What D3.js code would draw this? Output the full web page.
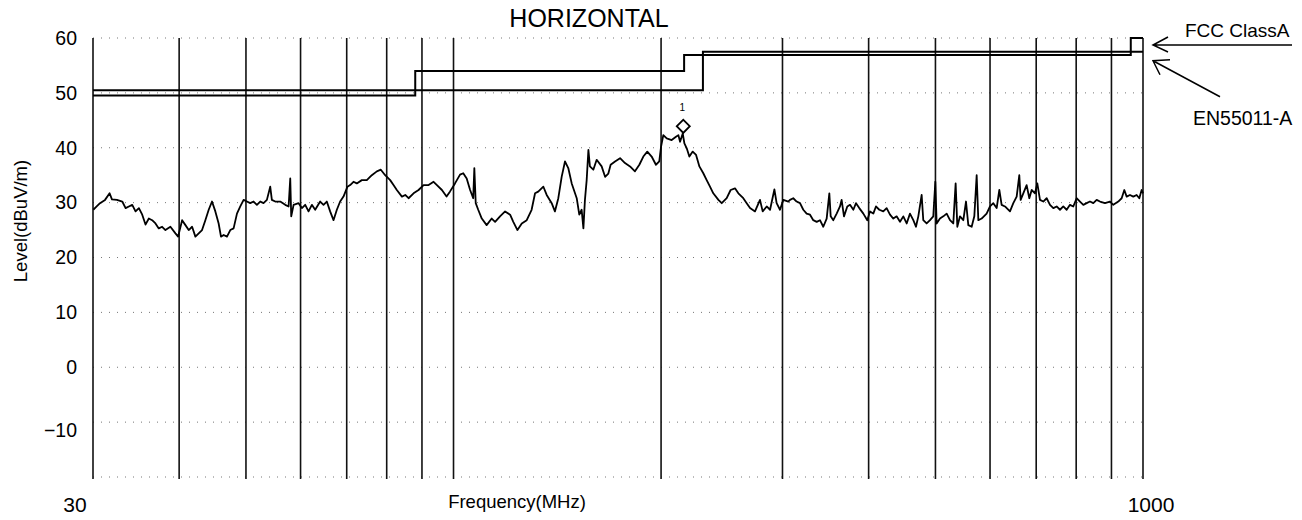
<!DOCTYPE html>
<html>
<head>
<meta charset="utf-8">
<script src="https://cdn.jsdelivr.net/npm/d3@7"></script>
<style>
  html, body { margin: 0; padding: 0; background: #fff; }
  svg { display: block; font-family: "Liberation Sans", Arial, sans-serif; }
</style>
</head>
<body>
<svg id="chart" width="1302" height="520"></svg>
<script>
const traceFreq = [
  30.03, 30.37, 30.71, 31.23, 31.71, 31.96, 32.5, 33.08, 33.45, 33.82, 34.2, 34.58, 34.97, 35.36, 35.75,
  36.15, 36.55, 36.96, 37.37, 37.79, 38.21, 38.85, 39.51, 39.86, 40.4, 40.85, 41.3, 41.77, 42.23, 42.7,
  43.18, 43.66, 44.15, 44.64, 45.14, 45.64, 46, 46.41, 46.93, 47.45, 47.98, 48.52, 49.06, 49.61, 50.16,
  50.72, 51.29, 51.86, 52.44, 53.02, 53.62, 54.22, 54.52, 55.13, 56.06, 57.01, 57.65, 57.97, 58.16, 58.62,
  59.6, 60.27, 60.94, 61.62, 62.31, 63, 64.06, 64.78, 65.5, 66.23, 66.98, 67.73, 68.48, 69.25, 70.18,
  70.81, 71.6, 72.4, 73.62, 74.86, 76.12, 77.41, 78.45, 79.59, 80.93, 81.84, 82.75, 84.17, 85.11, 86.06,
  87.51, 88.98, 90.48, 92.01, 93.56, 94.61, 96.2,
  97.7, 98.8, 100.5, 102.2, 103.3, 104.5, 105.7, 106.8, 107.2, 107.7, 108.6, 109.9, 111.7, 113.6, 114.9,
  116.8, 118.8, 120.8, 122.1, 123.8, 125.6, 127.7, 129.8, 131.3, 132.7, 135, 136.5, 138.8, 140.3, 141.9,
  143.5, 145.1, 146.7, 148.4, 150.9, 152.2, 153.4, 154.3, 155.1, 156, 156.9, 157.7, 159.5, 161.3, 164,
  165.9, 167.7, 169, 171.5, 174.4, 177.3, 180.3, 183.3, 186, 188.5, 191, 193.8, 196.6, 198.8, 200,
  201.5, 203.8, 207.2, 210.2, 211.9, 213.1, 215, 216.2, 217.9, 219.8, 222.3, 224.8, 227.3, 230.3, 232.9,
  235.5, 238.1, 242.2, 244.9, 249, 252.3, 256, 258.9, 263.2, 266.2, 269.2, 273.7, 278.3, 280.8, 284.6,
  287.8, 292, 294.2, 297.5, 300.9, 305.9,
  307.6, 311, 314.5, 318.1, 321.6, 325.2, 328.9, 332.5, 336.3, 340, 343.8, 347.7, 350.8, 352.4, 355.5,
  359.5, 363.5, 365.5, 368.4, 372.5, 375.9, 380.1, 383.5, 387.7, 393, 398.2, 401.8, 406.3, 409.9, 414.5,
  420.1, 424.8, 429.6, 434.4, 439.2, 444.2, 449.1, 454.2, 459.2, 464.4, 468.5, 472.2, 477.5, 480.1, 485.5,
  491, 496.4, 499.8, 502, 507.6, 513.3, 519.1, 524.9, 530.7, 534.9, 537.9, 542.7, 548.8, 553.7, 558,
  564.3, 569.3, 573.8, 577, 583.4, 593.2, 599.9, 606.6, 613.4, 618.9, 623.7, 630.7, 641.3, 648.5, 655.8,
  661.6, 664.6, 670.5, 678, 684.1, 689.5, 697.2, 702.6, 708.9, 716.8, 724.9, 733, 741.2, 749.5, 757.9,
  766.3, 774.9, 783.6, 792.3, 801.2, 810.2, 819.3, 828.4, 837.7, 847.1, 856.6, 866.2, 880.7, 895.6, 905.6,
  920.8, 931.2, 939.5, 946.9, 957.4, 968.1, 979, 987.7, 995.5, 1000
];
const traceLevel = [
  28.7, 29.3, 29.9, 30.5, 31.7, 30.6, 30.5, 30.2, 29, 29.3, 29.6, 28.4, 29, 27.8, 26,
  27.1, 26.8, 26.2, 25.3, 25.6, 25, 25.6, 24.4, 23.8, 26.8, 25.9, 25, 25.6, 23.8, 24.4,
  25, 26.8, 28.7, 30.2, 28.4, 26.2, 23.8, 24.1, 23.8, 25, 25.3, 28, 29.3, 30.5, 30.2,
  29.9, 30.2, 29.6, 30.2, 29.9, 30.5, 32.9, 30.5, 30.2, 30.2, 29.6, 29.3, 34.4, 27.5, 29.6,
  29.9, 29, 29.6, 28.4, 29.6, 28.7, 30.2, 29.6, 30.2, 28.4, 26.8, 28.7, 30.2, 31.1, 32.9,
  33.2, 33.8, 33.5, 34.1, 34.1, 35, 35.7, 36, 35, 34.1, 33.2, 32.3, 31.1, 31.4, 30.8,
  31.7, 32.3, 33.2, 33.2, 33.8, 33.2, 32.3,
  31.1, 32, 33.5, 35.1, 35.35, 34.4, 32.3, 30.8, 36.3, 29.9, 28.7, 27.1, 25.9, 27.1, 26.5,
  27.5, 28.4, 27.8, 26.5, 25, 26.2, 26.8, 28.7, 31.7, 32, 32.9, 31.4, 29.9, 28.4, 30.8,
  34.7, 37.5, 36.3, 33.5, 30.8, 27.8, 28.7, 25.3, 30.5, 34.1, 39.6, 36.6, 36, 37.8, 36.6,
  34.7, 35.3, 36.9, 37.5, 38.1, 37.2, 36.6, 35.7, 36.9, 38.4, 39.3, 38.4, 36.9, 37.5, 40.2,
  42.3, 41.7, 41.4, 42, 42.3, 41.1, 42.6, 40.8, 39.9, 38.4, 39.3, 38.7, 36.6, 35.35, 34.1,
  32.9, 31.7, 30.5, 29.9, 30.8, 32.3, 32.6, 31.7, 30.8, 29.9, 29, 28.4, 30.5, 28.4, 29.3,
  28.7, 32.4, 29.9, 28.7, 30.5, 30.2,
  30.5, 30.8, 30.2, 29.9, 28.7, 28, 27.8, 26.8, 26.5, 26.8, 25.6, 27.1, 31.7, 27.5, 26.8,
  28, 29.3, 30.5, 27.5, 29.3, 29.6, 28.7, 29.9, 29, 28, 26.8, 28.4, 28, 29.3, 28.7,
  28.4, 29, 27.8, 27.1, 27.5, 26.5, 27.5, 26.2, 28, 26.8, 25.6, 27.5, 31.4, 26.8, 26.2,
  26.8, 27.5, 33.8, 26.2, 27.1, 27.5, 28, 26.8, 26.2, 33.5, 25.6, 27.5, 26.8, 30.2, 25.9,
  25.6, 27.5, 35, 26.8, 27.1, 28, 29.3, 29.9, 29, 32.3, 29.6, 29.3, 28.4, 29.9, 31.1,
  35, 30.5, 31.7, 33.2, 30.8, 32.3, 31.7, 33.5, 30.5, 30.2, 30.8, 29.6, 29, 29.3, 28.7,
  29.3, 28.7, 29.6, 29.3, 30.8, 30.2, 29.6, 29.9, 30.2, 29.9, 30.5, 30.2, 29.9, 30.2, 29.6,
  30.2, 30.8, 32.3, 31.1, 31.4, 31.1, 31.4, 30.8, 32.3, 31.7
];

// limit lines (step after each frequency)
const fccFreq = [30, 88, 216, 960, 1000];
const fccLevel = [49.5, 54, 56.9, 60, 60];
const enFreq = [30, 230, 1000];
const enLevel = [50.5, 57.5, 57.5];

// peak marker
const markerFreq = [215.4];
const markerLevel = [43.9];

const gridFreqs = [30, 40, 50, 60, 70, 80, 90, 100, 200, 300, 400, 500, 600, 700, 800, 900, 1000];
const yGrid = [60, 50, 40, 30, 20, 10, 0, -10, -20];
const yTicks = [60, 50, 40, 30, 20, 10, 0, -10];
const xLabels = [30, 1000];

const svg = d3.select('#chart');

const x = d3.scaleLog().domain([30, 1000]).range([93, 1143]);
const y = d3.scaleLinear().domain([-20, 60]).range([477, 38]);

// horizontal dotted grid
svg.append('g')
  .selectAll('line')
  .data(yGrid)
  .join('line')
  .attr('x1', x(30))
  .attr('x2', x(1000))
  .attr('y1', d => y(d))
  .attr('y2', d => y(d))
  .attr('stroke', '#777')
  .attr('stroke-width', 1)
  .attr('stroke-dasharray', '1,7');

// vertical grid (solid)
svg.append('g')
  .selectAll('line')
  .data(gridFreqs)
  .join('line')
  .attr('x1', d => x(d))
  .attr('x2', d => x(d))
  .attr('y1', y(60))
  .attr('y2', y(-20) + 2)
  .attr('stroke', '#111')
  .attr('stroke-width', 1.6);

// y axis labels
svg.append('g')
  .attr('transform', `translate(${x(30)},0)`)
  .call(d3.axisLeft(y).tickValues(yTicks).tickSize(0).tickPadding(16))
  .call(g => g.select('.domain').remove())
  .call(g => g.selectAll('text')
    .attr('font-size', 19.5)
    .attr('font-family', '"Liberation Sans", Arial, sans-serif')
    .attr('fill', '#000'))
  .call(g => g.select('.tick:last-of-type text').attr('dy', '0.75em'));

// x labels
svg.append('g')
  .selectAll('text')
  .data(xLabels)
  .join('text')
  .attr('x', d => x(d) + (d === 30 ? -18 : 8))
  .attr('y', 512)
  .attr('text-anchor', 'middle')
  .attr('font-size', 21)
  .text(d => d);

// limit lines
const limitLine = d3.line()
  .x(d => x(d[0]))
  .y(d => y(d[1]))
  .curve(d3.curveStepAfter);

svg.append('path')
  .datum(fccFreq.map((f, i) => [f, fccLevel[i]]))
  .attr('fill', 'none')
  .attr('stroke', '#000')
  .attr('stroke-width', 2)
  .attr('d', limitLine);

svg.append('path')
  .datum(enFreq.map((f, i) => [f, enLevel[i]]))
  .attr('fill', 'none')
  .attr('stroke', '#000')
  .attr('stroke-width', 2)
  .attr('d', limitLine);

// trace
const traceLine = d3.line()
  .x(d => x(d[0]))
  .y(d => y(d[1]));

svg.append('path')
  .datum(traceFreq.map((f, i) => [f, traceLevel[i]]))
  .attr('fill', 'none')
  .attr('stroke', '#000')
  .attr('stroke-width', 1.8)
  .attr('stroke-linejoin', 'round')
  .attr('d', traceLine);

// marker
svg.append('g')
  .selectAll('path')
  .data(markerFreq)
  .join('path')
  .attr('transform', (d, i) => `translate(${x(d)},${y(markerLevel[i])}) rotate(45)`)
  .attr('d', d3.symbol(d3.symbolSquare, 85))
  .attr('fill', '#fff')
  .attr('stroke', '#000')
  .attr('stroke-width', 1.8);

svg.append('g')
  .selectAll('text')
  .data(markerFreq)
  .join('text')
  .attr('x', d => x(d) - 1)
  .attr('y', (d, i) => y(markerLevel[i]) - 15)
  .attr('text-anchor', 'middle')
  .attr('font-size', 10)
  .text((d, i) => i + 1);

// titles
svg.append('text')
  .attr('x', 589)
  .attr('y', 27)
  .attr('text-anchor', 'middle')
  .attr('font-size', 25)
  .text('HORIZONTAL');

svg.append('text')
  .attr('x', 517)
  .attr('y', 508)
  .attr('text-anchor', 'middle')
  .attr('font-size', 18.5)
  .text('Frequency(MHz)');

svg.append('text')
  .attr('transform', 'translate(27,221) rotate(-90)')
  .attr('text-anchor', 'middle')
  .attr('font-size', 18.5)
  .text('Level(dBuV/m)');

// limit legend with arrows
const xr = x(1000);
const fccY = y(60) + 7;
const enY = y(57.5) + 9;

svg.append('text')
  .attr('x', xr + 42)
  .attr('y', 37)
  .attr('font-size', 19)
  .text('FCC ClassA');

svg.append('text')
  .attr('x', xr + 50)
  .attr('y', 125)
  .attr('font-size', 19.5)
  .text('EN55011-A');

const arrows = svg.append('g')
  .attr('fill', 'none')
  .attr('stroke', '#000')
  .attr('stroke-width', 1.5);

arrows.append('path')
  .attr('d', `M${xr + 149},${fccY} L${xr + 10},${fccY} M${xr + 25},${fccY - 8} L${xr + 10},${fccY} L${xr + 25},${fccY + 7}`);

arrows.append('path')
  .attr('d', `M${xr + 77},${enY + 36} L${xr + 10},${enY} M${xr + 27},${enY - 1} L${xr + 10},${enY} L${xr + 17},${enY + 14}`);
</script>
</body>
</html>
